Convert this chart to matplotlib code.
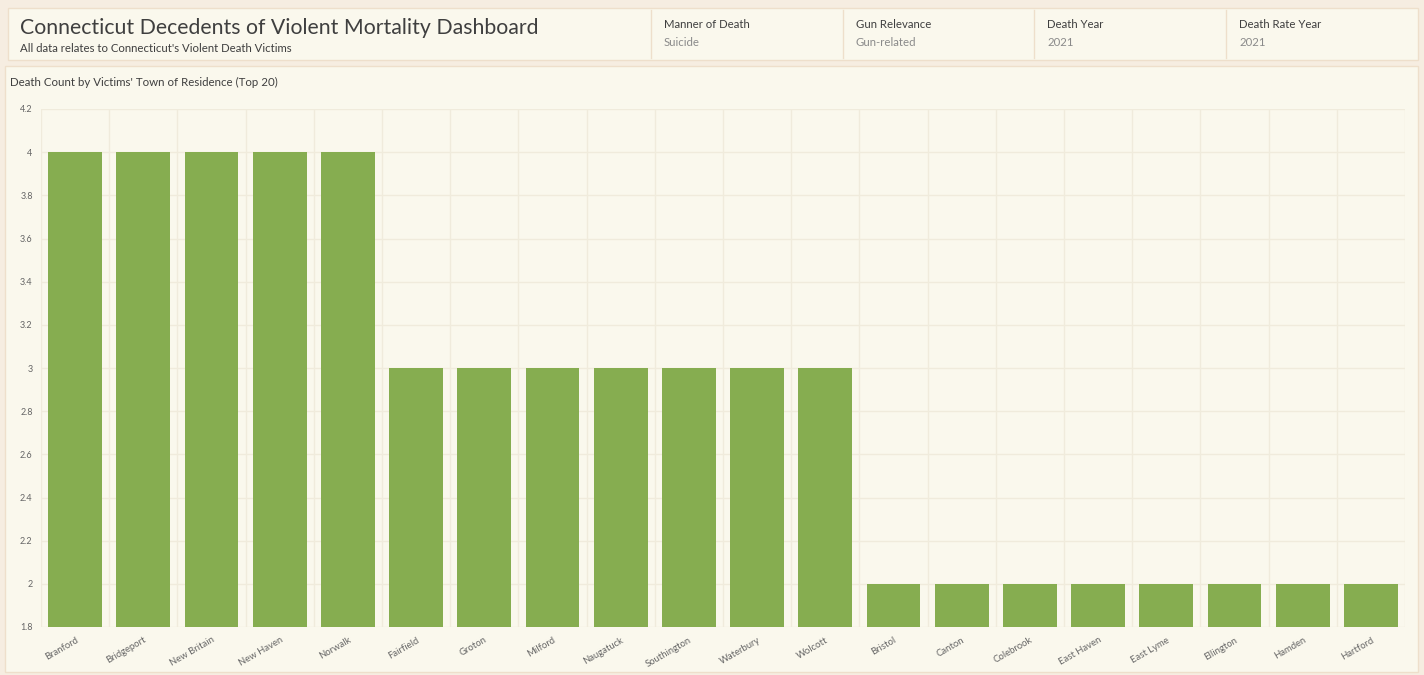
import numpy as np
import matplotlib
matplotlib.use('Agg')
import matplotlib.pyplot as plt
from matplotlib.patches import Rectangle
import matplotlib.ticker as ticker

# ── Datos ──────────────────────────────────────────────────────────────────
towns = ['Branford', 'Bridgeport', 'New Britain', 'New Haven', 'Norwalk',
         'Fairfield', 'Groton', 'Milford', 'Naugatuck', 'Southington',
         'Waterbury', 'Wolcott', 'Bristol', 'Canton', 'Colebrook',
         'East Haven', 'East Lyme', 'Ellington', 'Hamden', 'Hartford']
deaths = [4, 4, 4, 4, 4, 3, 3, 3, 3, 3, 3, 3, 2, 2, 2, 2, 2, 2, 2, 2]
y_ticks = [1.8, 2.0, 2.2, 2.4, 2.6, 2.8, 3.0, 3.2, 3.4, 3.6, 3.8, 4.0, 4.2]

filter_names = ['Manner of Death', 'Gun Relevance', 'Death Year', 'Death Rate Year']
filter_values = ['Suicide', 'Gun-related', '2021', '2021']

# ── Paleta ─────────────────────────────────────────────────────────────────
PAGE   = '#f6ede1'
PANEL  = '#faf8ed'
BORDER = '#eedfcb'
GRID   = '#f0ebdc'
BAR    = '#86ad50'
FG     = '#3f3f3f'
FGS    = '#8a8a8a'

plt.rcParams['font.family'] = ['Lato', 'DejaVu Sans']

W, H = 1424, 675
fig = plt.figure(figsize=(W / 100, H / 100), dpi=100)
fig.patch.set_facecolor(PAGE)


def px(x, y):
    return x / W, 1 - y / H


def box(x0, y0, x1, y1, fc=PANEL, ec=BORDER, lw=1):
    fig.patches.append(Rectangle(px(x0, y1), (x1 - x0) / W, (y1 - y0) / H,
                                 transform=fig.transFigure, facecolor=fc,
                                 edgecolor=ec, linewidth=lw, zorder=-5))


# header
box(8, 8, 1418, 60)
for xd in [651, 843, 1034, 1226]:
    fig.lines.append(plt.Line2D([xd / W, xd / W], [1 - 10 / H, 1 - 58 / H],
                                transform=fig.transFigure, color=BORDER, lw=1,
                                zorder=-4))

fig.text(*px(20, 28), 'Connecticut Decedents of Violent Mortality Dashboard',
         fontsize=15.3, color=FG, va='center', ha='left')
fig.text(*px(20, 48), "All data relates to Connecticut's Violent Death Victims",
         fontsize=8.2, color=FG, va='center', ha='left')

for xd, name, val in zip([664, 856, 1047, 1239], filter_names, filter_values):
    fig.text(*px(xd, 25), name, fontsize=8.2, color=FG, va='center', ha='left')
    fig.text(*px(xd, 42), val, fontsize=8.2, color=FGS, va='center', ha='left')

# chart panel
box(5, 66, 1418, 672)
fig.text(*px(10, 82), "Death Count by Victims' Town of Residence (Top 20)",
         fontsize=8.3, color=FG, va='center', ha='left')

ax = fig.add_axes([41 / W, 1 - 627 / H, (1405 - 41) / W, (627 - 109) / H])
ax.set_facecolor('none')
x = np.arange(len(towns))
ax.bar(x, deaths, width=0.79, color=BAR, zorder=3)

ax.set_xlim(-0.5, len(towns) - 0.5)
ax.set_ylim(1.8, 4.2)
ax.set_yticks(y_ticks)
ax.yaxis.set_major_formatter(ticker.FuncFormatter(lambda v, p: f'{v:g}'))
ax.set_xticks(x)
ax.set_xticklabels(towns, rotation=30, ha='right', rotation_mode='anchor',
                   fontsize=6.8, color='#666666')
ax.set_xticks(np.arange(len(towns) + 1) - 0.5, minor=True)
ax.tick_params(axis='y', labelsize=6.5, labelcolor='#666666', length=0, pad=6)
ax.tick_params(axis='x', length=0, pad=6)
ax.tick_params(which='minor', length=0)
ax.grid(axis='y', which='major', color=GRID, lw=1, zorder=0)
ax.grid(axis='x', which='minor', color=GRID, lw=1, zorder=0)
ax.grid(axis='x', which='major', visible=False)
for s in ax.spines.values():
    s.set_visible(False)

fig.savefig('out.png', dpi=100, facecolor=PAGE)
